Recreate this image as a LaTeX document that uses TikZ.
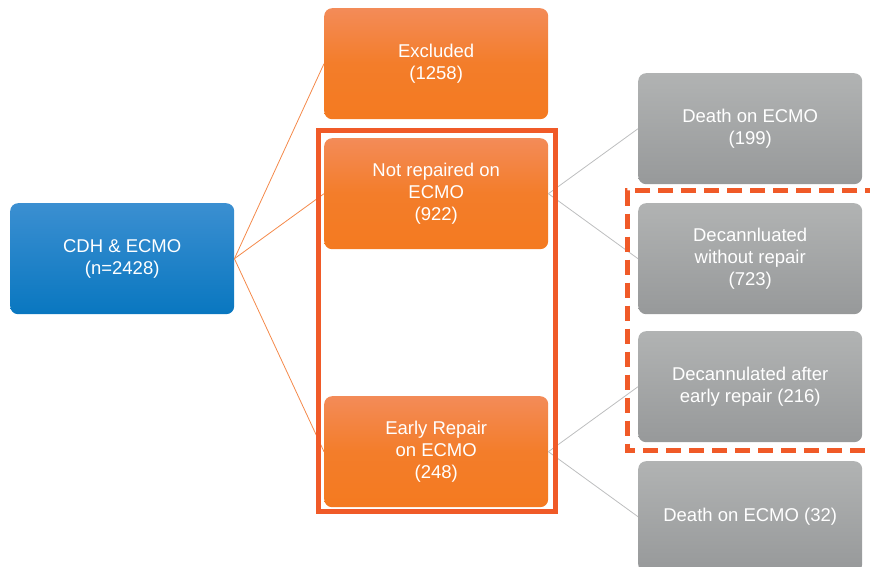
\documentclass[tikz,border=0pt]{standalone}
\usepackage{fontspec}
\setmainfont{Liberation Sans}
\begin{document}
\begin{tikzpicture}[x=1pt,y=-1pt,
  box/.style={rounded corners=8pt, minimum width=224pt, minimum height=111pt, text=white,
    align=center, font=\fontsize{18.5}{22}\selectfont, inner sep=2pt, anchor=north west},
  orangebox/.style={box, top color=ortop, bottom color=orbot, middle color=ormid},
  graybox/.style={box, top color=grtop, bottom color=grbot},
  oline/.style={draw=orline, line width=0.8pt},
  gline/.style={draw=grline, line width=0.8pt},
  redframe/.style={draw=redf, line width=5pt}
]
\definecolor{cbtop}{HTML}{3B8FD1}
\definecolor{cbbot}{HTML}{0977C0}
\definecolor{ortop}{HTML}{F38B58}
\definecolor{ormid}{HTML}{F37D2A}
\definecolor{orbot}{HTML}{F47A20}
\definecolor{grtop}{HTML}{B1B3B3}
\definecolor{grbot}{HTML}{97999A}
\definecolor{orline}{HTML}{F4894A}
\definecolor{grline}{HTML}{BDBEBF}
\definecolor{redf}{HTML}{F05A28}
\useasboundingbox (0,0) rectangle (870,567);

\node[box, top color=cbtop, bottom color=cbbot] (cdh) at (10,203) {CDH \& ECMO\\(n=2428)};
\node[orangebox] (exc) at (324,8) {Excluded\\(1258)};
\node[orangebox] (notrep) at (324,138) {Not repaired on\\ECMO\\(922)};
\node[orangebox] (early) at (324,396) {Early Repair\\on ECMO\\(248)};
\node[graybox] (d199) at (638,73) {Death on ECMO\\(199)};
\node[graybox] (dec723) at (638,203) {Decannluated\\without repair\\(723)};
\node[graybox] (dec216) at (638,331) {Decannulated after\\early repair (216)};
\node[graybox] (d32) at (638,461) {Death on ECMO (32)};

\draw[oline] (cdh.east) -- (exc.west);
\draw[oline] (cdh.east) -- (notrep.west);
\draw[oline] (cdh.east) -- (early.west);
\draw[gline] (notrep.east) -- (d199.west);
\draw[gline] (notrep.east) -- (dec723.west);
\draw[gline] (early.east) -- (dec216.west);
\draw[gline] (early.east) -- (d32.west);

\draw[redframe] (318,130.5) rectangle (555,511);
\draw[redframe, dash pattern=on 15pt off 8pt] (880,190.5) -- (627,190.5) -- (627,450.5) -- (880,450.5);
\end{tikzpicture}
\end{document}
